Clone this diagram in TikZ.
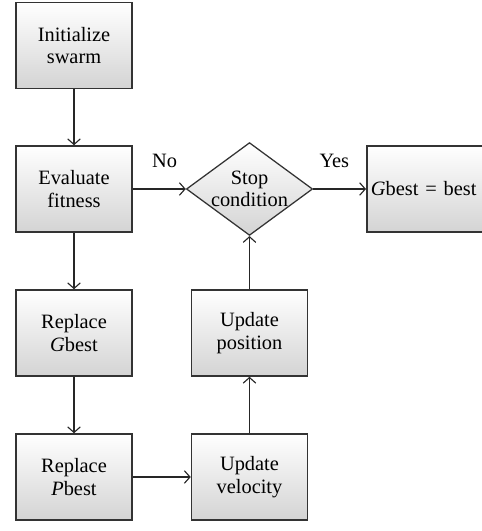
\documentclass[tikz,border=0pt]{standalone}
\usepackage{fontspec}
\setmainfont{Liberation Serif}
\usepackage{tikz}
\usetikzlibrary{arrows.meta,shapes.geometric}
\tikzstyle{block}=[draw=black!80,line width=1.1pt,minimum width=2.9cm,minimum height=2.15cm,
  top color=white,bottom color=black!17,align=center,inner sep=2pt,
  font=\fontsize{14.5}{16}\selectfont]
\tikzstyle{decide}=[diamond,draw=black!80,line width=0.9pt,minimum width=3.125cm,minimum height=2.3cm,
  aspect=1.36,inner sep=0pt,top color=white,bottom color=black!17,align=center,
  font=\fontsize{14.5}{16}\selectfont]
\tikzstyle{to}=[->,line width=0.8pt,draw=black!85]
\tikzstyle{lbl}=[font=\fontsize{14.5}{16}\selectfont]

\begin{document}
\begin{tikzpicture}[>={Straight Barb[length=4pt,width=9pt]}]

\useasboundingbox (0,0) rectangle (12.025,-13.275);

%%% Left column

\node [block] (init) at (1.85,-1.1375) {Initialize\\swarm};

\node [block] (eval) at (1.85,-4.725) {Evaluate\\fitness};

\node [block] (repg) at (1.85,-8.325) {Replace\\\textit{G}best};

\node [block] (repp) at (1.85,-11.925) {Replace\\\textit{P}best};

%%% Right column

\node [block] (vel) at (6.2375,-11.925) {Update\\velocity};

\node [block] (pos) at (6.2375,-8.325) {Update\\position};

\node [decide] (stop) at (6.2375,-4.725) {Stop\\condition};

% End box (runs past the right edge)

\node [block,text width=2.9cm,align=left,inner sep=3pt,anchor=west]
(gbest) at (9.15,-4.725) {\textit{G}best = best};

% Connectors

\draw [to] (init) -- (eval);
\draw [to] (eval) -- (repg);
\draw [to] (repg) -- (repp);
\draw [to] (repp) -- (vel);
\draw [to] (vel) -- (pos);
\draw [to] (pos) -- (stop.south);

\draw [to] (eval) -- (stop.west)
node [lbl,above,pos=0.6,yshift=0.4cm] (no) {No};

\draw [to] (stop.east) -- (gbest)
node [lbl,above,pos=0.4,yshift=0.4cm] (yes) {Yes};

\end{tikzpicture}
\end{document}
